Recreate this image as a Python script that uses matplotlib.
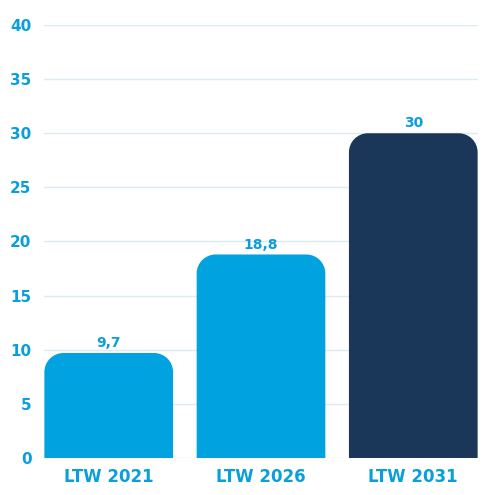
import matplotlib
matplotlib.use("Agg")
import matplotlib.pyplot as plt
from matplotlib.path import Path
from matplotlib.patches import PathPatch

categories = ["LTW 2021", "LTW 2026", "LTW 2031"]
values = [9.7, 18.8, 30]
labels = ["9,7", "18,8", "30"]
yticks = [0, 5, 10, 15, 20, 25, 30, 35, 40]

LIGHT = "#00a3e0"
DARK = "#1a3659"
TEXT = "#0a9fdc"
colors = [LIGHT, LIGHT, DARK]

fig = plt.figure(figsize=(4.95, 4.95), dpi=100)
ax = fig.add_axes([44/495, 1-458/495, 434/495, 433/495])
ax.set_xlim(-0.425, 2.425)
ax.set_ylim(0, 40)

width = 0.845
xs = list(range(len(categories)))
bars = ax.bar(xs, values, width=width, color=colors)
fig.canvas.draw()

# convert pixel radius to data units
r_px = 19
px_per_x = ax.bbox.width / (ax.get_xlim()[1] - ax.get_xlim()[0])
px_per_y = ax.bbox.height / (ax.get_ylim()[1] - ax.get_ylim()[0])
rx = r_px / px_per_x
ry = r_px / px_per_y
k = 0.5523
for b in bars:
    x0 = b.get_x(); w = b.get_width(); h = b.get_height()
    x1 = x0 + w
    verts = [
        (x0, 0), (x0, h - ry),
        (x0, h - ry + k*ry), (x0 + rx - k*rx, h), (x0 + rx, h),
        (x1 - rx, h),
        (x1 - rx + k*rx, h), (x1, h - ry + k*ry), (x1, h - ry),
        (x1, 0), (x0, 0)]
    codes = [Path.MOVETO, Path.LINETO,
             Path.CURVE4, Path.CURVE4, Path.CURVE4,
             Path.LINETO,
             Path.CURVE4, Path.CURVE4, Path.CURVE4,
             Path.LINETO, Path.CLOSEPOLY]
    patch = PathPatch(Path(verts, codes), facecolor=b.get_facecolor(),
                      edgecolor="none", zorder=3)
    ax.add_patch(patch)
    b.set_visible(False)

for x, v, lab in zip(xs, values, labels):
    ax.annotate(lab, (x, v), xytext=(0, 2), textcoords="offset points",
                ha="center", va="bottom", fontsize=10, fontweight="bold",
                color=TEXT, zorder=4)

ax.set_yticks(yticks)
ax.set_yticklabels([str(t) for t in yticks])
ax.set_xticks(xs)
ax.set_xticklabels(categories)
ax.grid(axis="y", color="#dcebf2", linewidth=1, zorder=0)
ax.set_axisbelow(True)
for s in ax.spines.values():
    s.set_visible(False)
ax.tick_params(axis="both", length=0)
ax.tick_params(axis="y", pad=9, labelsize=11, labelcolor=TEXT)
ax.tick_params(axis="x", pad=7, labelsize=12, labelcolor=TEXT)
for t in ax.get_yticklabels() + ax.get_xticklabels():
    t.set_fontweight("bold")

fig.savefig("out.png", dpi=100)
